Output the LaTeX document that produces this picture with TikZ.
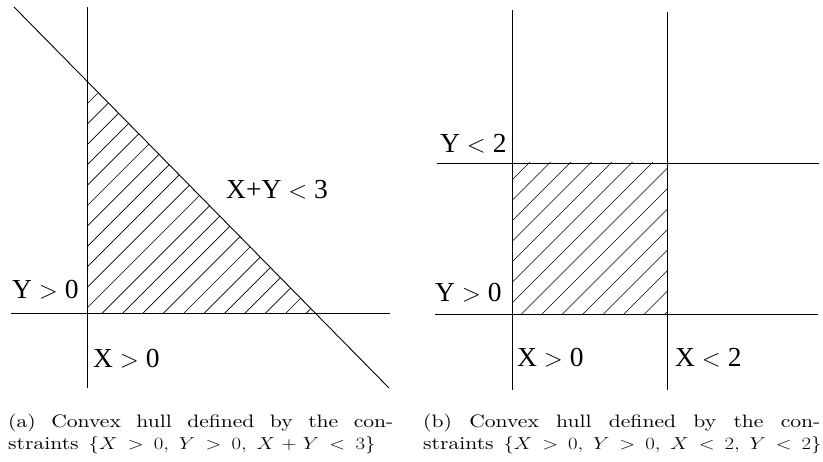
\documentclass[tikz,border=0pt]{standalone}
\usepackage{fontspec}
\newfontfamily\labfont{Liberation Serif}
\newfontfamily\capfont[Extension=.otf]{lmroman10-regular}
\begin{document}
\begin{tikzpicture}[x=1pt,y=-1pt,
  axis/.style={line width=0.9pt},
  hatchline/.style={line width=0.65pt},
  lab/.style={font=\labfont\fontsize{27.5}{32}\selectfont, inner sep=0pt, anchor=base west},
  captext/.style={font=\capfont\fontsize{18}{22}\selectfont, inner sep=0pt, anchor=base west}]
\useasboundingbox (0,0) rectangle (823,462);
% ---------- left panel ----------
\coordinate (vT) at (87,7);   \coordinate (vB) at (87,388);
\coordinate (hL) at (11,313); \coordinate (hR) at (390,313);
\coordinate (dT) at (14,7);   \coordinate (dB) at (389,388);
\coordinate (O) at (intersection of vT--vB and hL--hR);
\coordinate (P) at (intersection of vT--vB and dT--dB);
\coordinate (Q) at (intersection of hL--hR and dT--dB);
\begin{scope}
  \clip (O) -- (P) -- (Q) -- cycle;
  \foreach \k in {-1,...,21} {
    \pgfmathsetmacro\c{191+20.4*\k}
    \draw[hatchline] ({\c-400},400) -- (\c,0);
  }
\end{scope}
\draw[axis] (vT) -- (vB);
\draw[axis] (hL) -- (hR);
\draw[axis] (dT) -- (dB);
\node[lab] (lxy) at (226,199) {X+Y $<$ 3};
\node[lab] (ly0) at (12,299) {Y $>$ 0};
\node[lab] (lx0) at (93,368) {X $>$ 0};
% ---------- right panel ----------
\coordinate (v1T) at (512,10);  \coordinate (v1B) at (512,390);
\coordinate (v2T) at (667,12);  \coordinate (v2B) at (667,390);
\coordinate (h1L) at (437,163); \coordinate (h1R) at (819,163);
\coordinate (h2L) at (435,314); \coordinate (h2R) at (818,314);
\begin{scope}
  \clip (512,163) rectangle (667,314);
  \foreach \k in {-1,...,14} {
    \pgfmathsetmacro\c{692+20.5*\k}
    \draw[hatchline] ({\c-400},400) -- (\c,0);
  }
\end{scope}
\draw[axis] (v1T) -- (v1B);
\draw[axis] (v2T) -- (v2B);
\draw[axis] (h1L) -- (h1R);
\draw[axis] (h2L) -- (h2R);
\node[lab] (ry2) at (440,153) {Y $<$ 2};
\node[lab] (ry0) at (435,302) {Y $>$ 0};
\node[lab] (rx0) at (517,367) {X $>$ 0};
\node[lab] (rx2) at (675,367) {X $<$ 2};
% ---------- captions ----------
\node[captext] (ca1) at (8,428) {\scalebox{1.2}[1]{\makebox[321pt][s]{(a) Convex hull defined by the con-}}};
\node[captext] (ca2) at (8,449.5) {\scalebox{1.2}[1]{\makebox[306pt][s]{straints $\{X>0,$ $Y>0,$ $X+Y<3\}$}}};
\node[captext] (cb1) at (423,428) {\scalebox{1.2}[1]{\makebox[331pt][s]{(b) Convex hull defined by the con-}}};
\node[captext] (cb2) at (423,449.5) {\scalebox{1.2}[1]{\makebox[332pt][s]{straints $\{X>0,$ $Y>0,$ $X<2,$ $Y<2\}$}}};
\end{tikzpicture}
\end{document}
